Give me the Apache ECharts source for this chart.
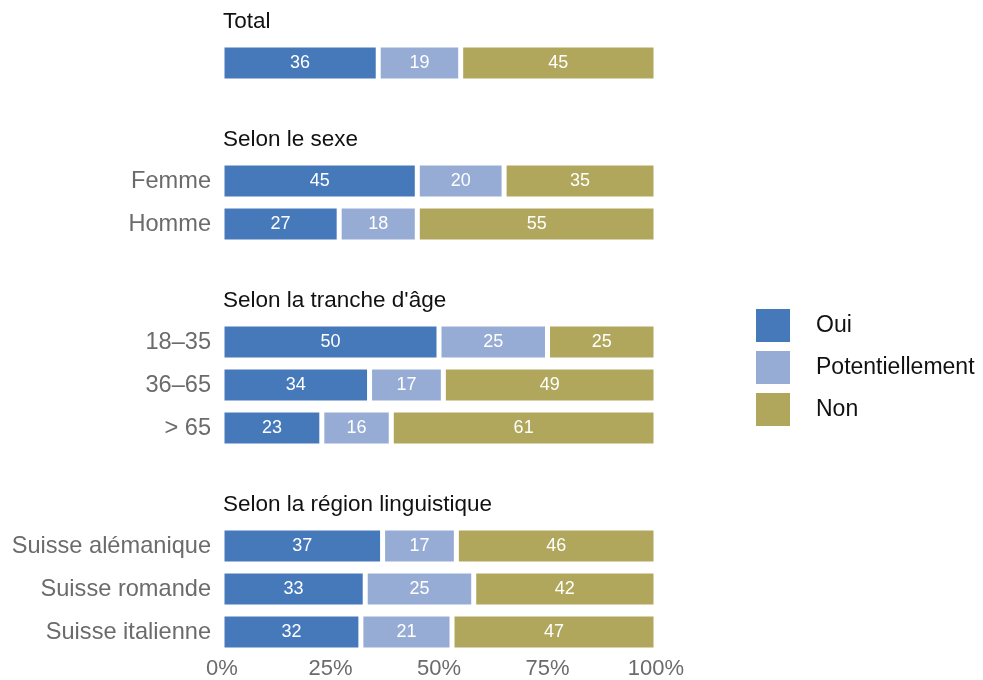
<!DOCTYPE html>
<html>
<head>
<meta charset="utf-8">
<script src="https://cdn.jsdelivr.net/npm/echarts@6/dist/echarts.min.js"></script>
<style>
html,body{margin:0;padding:0;background:#fff;}
#chart{width:983px;height:680px;}
</style>
</head>
<body>
<div id="chart"></div>
<script>
const groupTitles = ['Total', 'Selon le sexe', "Selon la tranche d'âge", 'Selon la région linguistique'];
const groupCategories = [
  [''],
  ['Femme', 'Homme'],
  ['18–35', '36–65', '> 65'],
  ['Suisse alémanique', 'Suisse romande', 'Suisse italienne']
];
const seriesNames = ['Oui', 'Potentiellement', 'Non'];
const ouiValues = [[36], [45, 27], [50, 34, 23], [37, 33, 32]];
const potValues = [[19], [20, 18], [25, 17, 16], [17, 25, 21]];
const nonValues = [[45], [35, 55], [25, 49, 61], [46, 42, 47]];
const xTicks = [0, 25, 50, 75, 100];

const colors = ['#4679ba', '#97acd4', '#b0a75c'];
const FONT = 'Liberation Sans, Arial, Helvetica, sans-serif';

const gridTops = [41.5, 159.5, 320.5, 524.5];
const rowH = 43;

const grids = [], xAxes = [], yAxes = [], series = [], titles = [];
const valueSets = [ouiValues, potValues, nonValues];

groupCategories.forEach((cats, g) => {
  const last = g === groupCategories.length - 1;
  grids.push({left: 222, width: 434, top: gridTops[g], height: cats.length * rowH});
  xAxes.push({
    type: 'value', gridIndex: g, min: xTicks[0], max: xTicks[xTicks.length - 1], interval: 25,
    axisLine: {show: false}, axisTick: {show: false},
    splitLine: {show: false},
    axisLabel: {show: last, formatter: '{value}%', color: '#6b6b6b', fontSize: 22, fontFamily: FONT, margin: 4}
  });
  yAxes.push({
    type: 'category', gridIndex: g, data: cats, inverse: true,
    axisLine: {show: false}, axisTick: {show: false},
    axisLabel: {color: '#6b6b6b', fontSize: 23.6, fontFamily: FONT, margin: 11}
  });
  valueSets.forEach((vals, s) => {
    series.push({
      name: seriesNames[s], type: 'bar', stack: 'g' + g,
      xAxisIndex: g, yAxisIndex: g,
      data: vals[g], barWidth: 36,
      itemStyle: {color: colors[s], borderColor: '#fff', borderWidth: 2.5},
      label: {show: true, position: 'inside', color: '#fff', fontSize: 18, fontFamily: FONT},
      emphasis: {disabled: true},
      animation: false
    });
  });
  titles.push({
    text: groupTitles[g], left: 218, top: gridTops[g] - 36,
    textStyle: {color: '#111', fontSize: 22.5, fontWeight: 'normal', fontFamily: FONT}
  });
});
titles[0].top = 5;

const chart = echarts.init(document.getElementById('chart'));
chart.setOption({
  animation: false,
  title: titles,
  legend: {
    data: seriesNames, orient: 'vertical', left: 754, top: 307, padding: 0,
    itemWidth: 36, itemHeight: 35, itemGap: 5, icon: 'rect',
    selectedMode: false,
    textStyle: {color: '#111', fontSize: 23, fontFamily: FONT, padding: [0, 0, 0, 20]}
  },
  grid: grids, xAxis: xAxes, yAxis: yAxes, series: series
});
</script>
</body>
</html>
